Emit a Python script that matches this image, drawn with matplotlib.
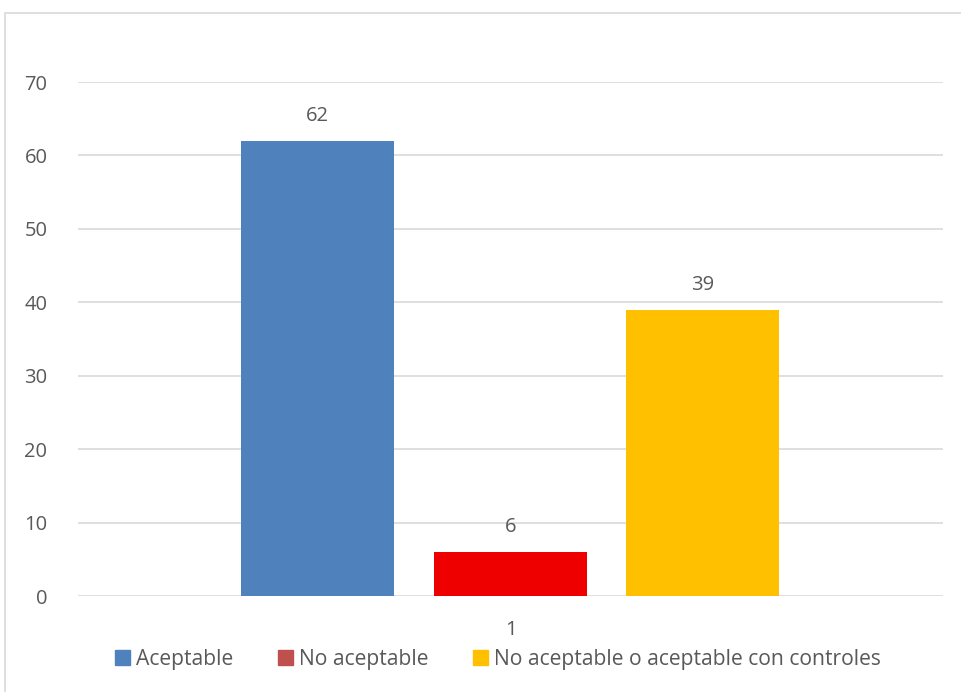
import matplotlib.pyplot as plt
from matplotlib.patches import Rectangle, Patch

# data
series = ['Aceptable', 'No aceptable', 'No aceptable o aceptable con controles']
values = [62, 6, 39]
category = '1'
bar_colors = ['#4F81BD', '#EE0000', '#FFC000']
legend_colors = ['#4F81BD', '#C0504D', '#FFC000']

plt.rcParams['font.family'] = ['Open Sans', 'DejaVu Sans']
txt = '#595959'
grid = '#D9D9D9'
fs = 14.5

fig = plt.figure(figsize=(9.61, 6.92), dpi=100)
# outer chart border (right/bottom edges fall outside the picture)
fig.patches.append(Rectangle((5 / 961, -0.05), 1.1, 1 - 13 / 692 + 0.05,
                             transform=fig.transFigure, fill=False,
                             edgecolor=grid, lw=1.2))

ax = fig.add_axes([78 / 961, 1 - 596 / 692, 865 / 961, 514 / 692])

offsets = [-0.223, 0.0, 0.222]
width = 0.176
for i in range(len(values)):
    ax.bar(offsets[i], values[i], width=width, color=bar_colors[i], zorder=3)
    ax.text(offsets[i], values[i] + 3.4, str(values[i]), ha='center', va='center',
            fontsize=fs, color=txt)

ax.set_xlim(-0.5, 0.5)
ax.set_ylim(0, 70)
ax.set_yticks(range(0, 71, 10))
ax.set_xticks([0])
ax.set_xticklabels([category])
ax.yaxis.grid(True, color=grid, lw=1.2, zorder=0)
for s in ax.spines.values():
    s.set_visible(False)
ax.tick_params(axis='both', length=0, labelsize=fs, labelcolor=txt)
ax.tick_params(axis='y', pad=22)
ax.tick_params(axis='x', pad=17)

handles = [Patch(color=c, label=l) for c, l in zip(legend_colors, series)]
fig.legend(handles=handles, loc='center', bbox_to_anchor=(498 / 961, 1 - 659 / 692),
           ncol=3, frameon=False, fontsize=15.2, labelcolor=txt,
           handlelength=0.7, handleheight=0.7, handletextpad=0.3, columnspacing=2.1)

fig.savefig('out.png', dpi=100)
